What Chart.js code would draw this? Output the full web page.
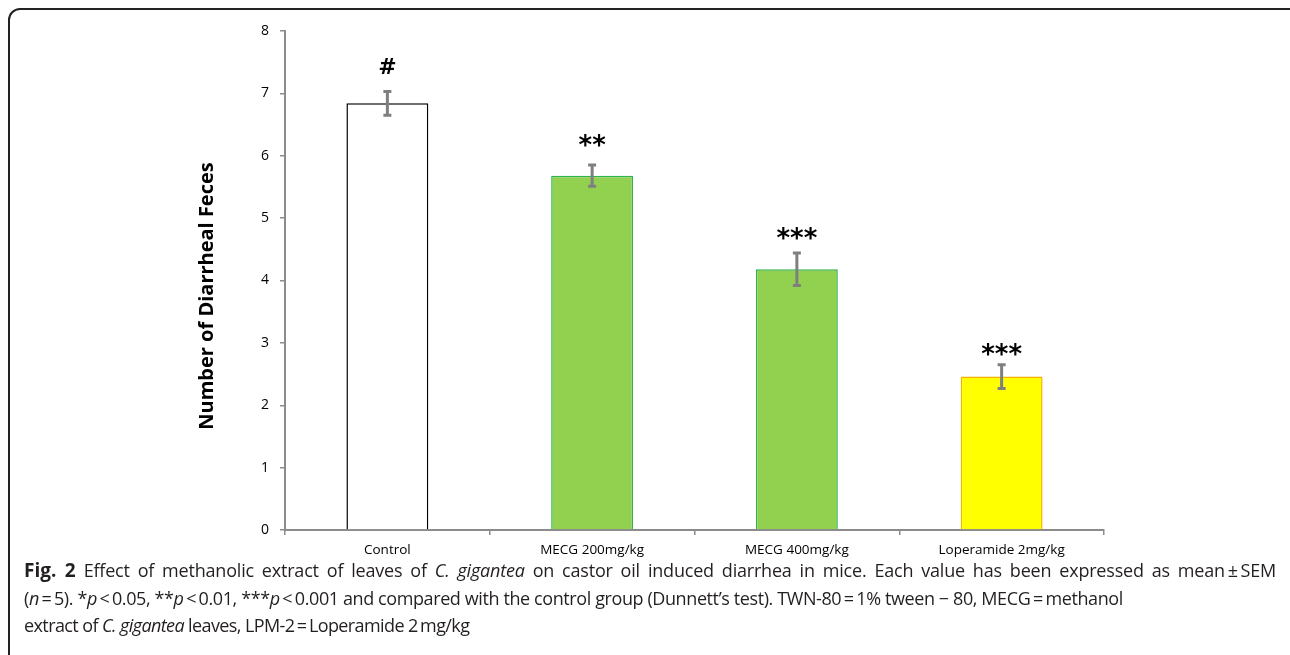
<!DOCTYPE html>
<html>
<head>
<meta charset="utf-8">
<script src="https://cdn.jsdelivr.net/npm/chart.js@4"></script>
<style>
  html, body { margin: 0; padding: 0; background: #fff; width: 1290px; height: 655px; overflow: hidden; }
  #frame { position: absolute; left: 8px; top: 8px; width: 1300px; height: 680px; border: 2px solid #222; border-radius: 12px; box-sizing: border-box; }
  #c { position: absolute; left: 0; top: 0; }
  #cap { position: absolute; left: 24px; top: 557px; font-family: "Open Sans", sans-serif; font-size: 18px; line-height: 27.5px; color: #231f20; white-space: nowrap; }
  #cap .l1 { width: 1252px; text-align: justify; text-align-last: justify; letter-spacing: -0.2px; }
  #cap .l2 { letter-spacing: -0.4px; }
  #cap .l3 { letter-spacing: -0.6px; }
  #cap b { font-size: 19px; letter-spacing: 0; }
</style>
</head>
<body>
<div id="frame"></div>
<canvas id="c" width="1290" height="565"></canvas>
<div id="cap">
<div class="l1"><b>Fig. 2</b> Effect of methanolic extract of leaves of <i>C. gigantea</i> on castor oil induced diarrhea in mice. Each value has been expressed as mean&#8201;±&#8201;SEM</div>
<div class="l2">(<i>n</i>&#8201;=&#8201;5). *<i>p</i>&#8201;&lt;&#8201;0.05, **<i>p</i>&#8201;&lt;&#8201;0.01, ***<i>p</i>&#8201;&lt;&#8201;0.001 and compared with the control group (Dunnett’s test). TWN-80&#8201;=&#8201;1% tween − 80, MECG&#8201;=&#8201;methanol</div>
<div class="l3">extract of <i>C. gigantea</i> leaves, LPM-2&#8201;=&#8201;Loperamide 2&#8201;mg/kg</div>
</div>
<script>
const categories = ['Control', 'MECG 200mg/kg', 'MECG 400mg/kg', 'Loperamide 2mg/kg'];
const meanValues = [6.84, 5.68, 4.18, 2.46];
const semValues = [0.19, 0.17, 0.26, 0.19];
const sigLabels = ['#', '**', '***', '***'];
const sigLabelValues = [7.44, 6.25, 4.75, 2.90];
const yTickValues = [0, 1, 2, 3, 4, 5, 6, 7, 8];
const yTitle = 'Number of Diarrheal Feces';

const errorBarPlugin = {
  id: 'errorBars',
  afterDatasetsDraw(chart) {
    const ctx = chart.ctx;
    const meta = chart.getDatasetMeta(0);
    const y = chart.scales.y;
    ctx.save();
    ctx.strokeStyle = '#7f7f7f';
    ctx.lineWidth = 3;
    meta.data.forEach((bar, i) => {
      const x = bar.x;
      const yt = y.getPixelForValue(meanValues[i] + semValues[i]);
      const yb = y.getPixelForValue(meanValues[i] - semValues[i]);
      ctx.beginPath();
      ctx.moveTo(x, yt); ctx.lineTo(x, yb);
      ctx.moveTo(x - 4, yt); ctx.lineTo(x + 4, yt);
      ctx.moveTo(x - 4, yb); ctx.lineTo(x + 4, yb);
      ctx.stroke();
    });
    ctx.fillStyle = '#000';
    ctx.textAlign = 'center';
    ctx.textBaseline = 'alphabetic';
    meta.data.forEach((bar, i) => {
      const lbl = sigLabels[i];
      ctx.font = lbl === '#' ? 'bold 22px "DejaVu Sans"' : 'bold 26px "DejaVu Sans"';
      const m = ctx.measureText(lbl);
      const target = y.getPixelForValue(sigLabelValues[i]);
      const yy = target + (m.actualBoundingBoxAscent - m.actualBoundingBoxDescent) / 2;
      ctx.fillText(lbl, bar.x, yy);
    });
    ctx.font = 'bold 20px "Open Sans"';
    ctx.translate(207, 296);
    ctx.rotate(-Math.PI / 2);
    ctx.textBaseline = 'middle';
    ctx.fillText(yTitle, 0, 0);
    ctx.restore();
  }
};

new Chart(document.getElementById('c'), {
  type: 'bar',
  data: {
    labels: categories,
    datasets: [{
      data: meanValues,
      backgroundColor: ['#ffffff', '#92d050', '#92d050', '#ffff00'],
      borderColor: ['#000000', '#2fb34e', '#2fb34e', '#f0b400'],
      borderWidth: 1.5,
      barPercentage: 0.4,
      categoryPercentage: 1.0
    }]
  },
  options: {
    responsive: false,
    animation: false,
    devicePixelRatio: 1,
    layout: { padding: { left: 196, right: 186, top: 31, bottom: 0 } },
    plugins: { legend: { display: false }, tooltip: { enabled: false } },
    scales: {
      x: {
        offset: true,
        grid: { offset: true, drawOnChartArea: false, drawTicks: true, tickLength: 5, color: '#8c8c8c', lineWidth: 1.5 },
        border: { color: '#8c8c8c', width: 2 },
        ticks: { color: '#000', font: { family: 'Open Sans', size: 13.5 }, padding: 7, maxRotation: 0 },
        afterFit(scale) { scale.height = 35; }
      },
      y: {
        min: 0, max: 8,
        afterBuildTicks(scale) { scale.ticks = yTickValues.map(v => ({ value: v })); },
        grid: { drawOnChartArea: false, drawTicks: true, tickLength: 5, color: '#8c8c8c', lineWidth: 1.5 },
        border: { color: '#8c8c8c', width: 2 },
        ticks: { color: '#000', font: { family: 'Open Sans', size: 14 }, padding: 11 },
        afterFit(scale) { scale.width = 89; }
      }
    }
  },
  plugins: [errorBarPlugin]
});
</script>
</body>
</html>
